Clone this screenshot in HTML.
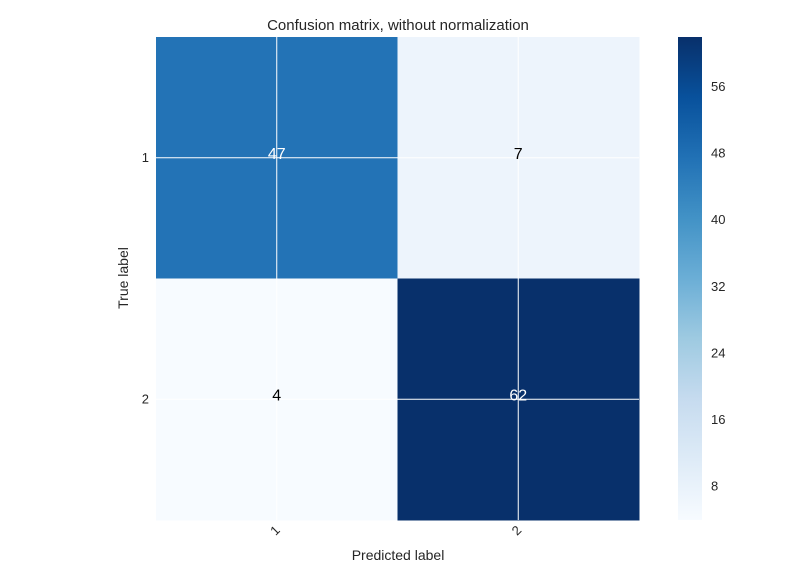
<!DOCTYPE html>
<html><head><meta charset="utf-8"><style>
body{margin:0;background:#fff;}
svg{display:block;font-family:"Liberation Sans","DejaVu Sans",sans-serif;}
</style></head><body>
<svg id="chart" width="812" height="562">
<defs>
<linearGradient id="blues" x1="0" y1="1" x2="0" y2="0">
<stop offset="0" stop-color="#f7fbff"/><stop offset="0.125" stop-color="#deebf7"/>
<stop offset="0.25" stop-color="#c6dbef"/><stop offset="0.375" stop-color="#9ecae1"/>
<stop offset="0.5" stop-color="#6baed6"/><stop offset="0.625" stop-color="#4292c6"/>
<stop offset="0.75" stop-color="#2171b5"/><stop offset="0.875" stop-color="#08519c"/>
<stop offset="1" stop-color="#08306b"/>
</linearGradient>
</defs>
<text x="398" y="30" text-anchor="middle" font-size="15" fill="#262626">Confusion matrix, without normalization</text>
<g id="cells"></g>
<g id="grid"></g>
<g id="labels"></g>
<text x="398" y="560" text-anchor="middle" font-size="14" fill="#262626">Predicted label</text>
<text transform="translate(128,278) rotate(-90)" text-anchor="middle" font-size="14" fill="#262626">True label</text>
<rect x="678" y="37" width="24" height="483" fill="url(#blues)"/>
<g id="cbticks"></g>
</svg>
<script>
const classes = ["1","2"];
const matrix = [[47,7],[4,62]];
const cbTicks = [8,16,24,32,40,48,56];
const vmin = 4, vmax = 62;
const L=156,T=37,W=483,H=483;
const stops=[[247,251,255],[222,235,247],[198,219,239],[158,202,225],[107,174,214],[66,146,198],[33,113,181],[8,81,156],[8,48,107]];
function color(v){let t=(v-vmin)/(vmax-vmin);t=Math.max(0,Math.min(1,t))*8;const i=Math.min(7,Math.floor(t)),f=t-i;
const c=stops[i].map((a,k)=>Math.round(a+(stops[i+1][k]-a)*f));return `rgb(${c})`;}
const n=classes.length,cw=W/n,ch=H/n;
const xs=i=>L+cw*(i+0.5), ys=i=>T+ch*(i+0.5);
const cb=v=>37+483*(vmax-v)/(vmax-vmin);
const NS="http://www.w3.org/2000/svg";
function mk(tag,attrs,parent,txt){const e=document.createElementNS(NS,tag);for(const k in attrs)e.setAttribute(k,attrs[k]);if(txt!==undefined)e.textContent=txt;document.getElementById(parent).appendChild(e);return e;}
const thresh=vmax/2;
matrix.forEach((row,r)=>row.forEach((v,c)=>{
 const e=mk('rect',{x:L+c*cw,y:T+r*ch,width:cw+0.5,height:ch+0.5,fill:color(v)},'cells');
 
 
}));
for(let i=0;i<n;i++){
 const g1=mk('line',{x1:xs(i),x2:xs(i),y1:T,y2:T+H,stroke:'#fff','stroke-width':1},'grid');
 
 
 const g2=mk('line',{x1:L,x2:L+W,y1:ys(i),y2:ys(i),stroke:'#fff','stroke-width':1},'grid');
 
 
}
matrix.forEach((row,r)=>row.forEach((v,c)=>{
 const e=mk('text',{x:xs(c),y:ys(r)+1,'text-anchor':'middle','font-size':16,fill:v>thresh?'#fff':'#000'},'labels',String(v));
 
 
}));
classes.forEach((cl,i)=>{
 const a=mk('text',{x:149,y:ys(i)+4,'text-anchor':'end','font-size':13,fill:'#262626'},'labels',cl);
 
 
 const b=mk('text',{transform:`translate(${xs(i)+4},531) rotate(-45)`,'text-anchor':'end','font-size':13,fill:'#262626'},'labels',cl);
 
 
});
cbTicks.forEach(t=>{
 const e=mk('text',{x:711,y:cb(t)+4,'font-size':13,fill:'#262626'},'cbticks',String(t));
 
 
});
</script>
</body></html>
